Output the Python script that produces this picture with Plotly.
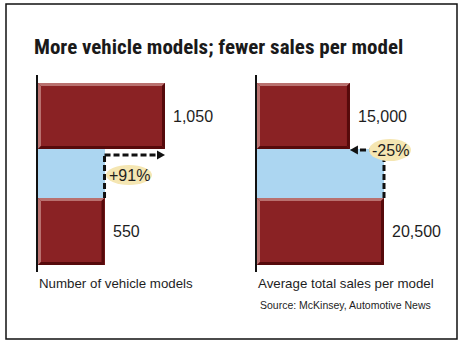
import plotly.graph_objects as go

# ---- data ----
panel_titles = ["Number of vehicle models", "Average total sales per model"]
top_values = [1050, 15000]        # upper (new) bar
bottom_values = [550, 20500]      # lower (old) bar
top_labels = ["1,050", "15,000"]
bottom_labels = ["550", "20,500"]
change_labels = ["+91%", "-25%"]
title = "More vehicle models; fewer sales per model"
source = "Source: McKinsey, Automotive News"

W, H = 463, 342
def PX(x): return x / W
def PY(y): return 1 - y / H

MAROON = "#8a2224"
LIGHT = "#b9716f"
DARK = "#560a0b"
BLUE = "#acd6f1"
YELLOW = "#f5e6b2"
TXT = "#1e1e1e"
FONT = "Liberation Sans, Arial, sans-serif"

# geometry (pixels)
ax_left = [38, 257]
panel_w = 200
bar_px = 127            # px width of the larger value in each panel
y_top_px, y_bot_px = 75, 272
span = y_bot_px - y_top_px
def yv(py):  # pixel row -> y-axis units
    return y_bot_px - py
bars_y = {"top": (yv(149), yv(83)), "band": (yv(198), yv(149)), "bot": (yv(265), yv(198))}

fig = go.Figure()
shapes, annotations = [], []
bev = 3

for i in range(2):
    xa = "x" if i == 0 else "x2"
    ya = "y" if i == 0 else "y2"
    vmax = max(top_values[i], bottom_values[i])
    s = bar_px / vmax           # px per unit
    rng = panel_w / s
    ax_key = "xaxis" if i == 0 else "xaxis2"
    ay_key = "yaxis" if i == 0 else "yaxis2"
    fig.update_layout(**{
        ax_key: dict(domain=[PX(ax_left[i]), PX(ax_left[i] + panel_w)], range=[0, rng],
                     visible=False, fixedrange=True, anchor=ya),
        ay_key: dict(domain=[PY(y_bot_px), PY(y_top_px)], range=[0, span], showline=True,
                     linecolor="#111", linewidth=2, showticklabels=False, ticks="",
                     showgrid=False, zeroline=False, anchor=xa, fixedrange=True),
    })
    entries = [("top", top_values[i], MAROON), ("band", bottom_values[i], BLUE),
               ("bot", bottom_values[i], MAROON)]
    for key, val, col in entries:
        y0, y1 = bars_y[key]
        fig.add_trace(go.Bar(x=[val], y=[(y0 + y1) / 2], width=[y1 - y0], base=0,
                             orientation="h", marker=dict(color=col, line=dict(width=0)),
                             xaxis=xa, yaxis=ya, showlegend=False, hoverinfo="skip"))
        if col == MAROON:
            bx = bev / s
            x0, x1 = 0, val
            polys = [
                (LIGHT, [(x0, y1), (x1, y1), (x1 - bx, y1 - bev), (x0 + bx, y1 - bev)]),
                (LIGHT, [(x0, y0), (x0, y1), (x0 + bx, y1 - bev), (x0 + bx, y0 + bev)]),
                (DARK, [(x0, y0), (x1, y0), (x1 - bx, y0 + bev), (x0 + bx, y0 + bev)]),
                (DARK, [(x1, y0), (x1, y1), (x1 - bx, y1 - bev), (x1 - bx, y0 + bev)]),
            ]
            for c, pts in polys:
                path = "M " + " L ".join(f"{a},{b}" for a, b in pts) + " Z"
                shapes.append(dict(type="path", path=path, xref=xa, yref=ya,
                                   fillcolor=c, line=dict(width=0), layer="above"))
    # value labels
    annotations.append(dict(x=top_values[i], y=sum(bars_y["top"]) / 2, xref=xa, yref=ya,
                            text=top_labels[i], showarrow=False, xanchor="left", xshift=6,
                            font=dict(size=16, color=TXT, family=FONT)))
    annotations.append(dict(x=bottom_values[i], y=sum(bars_y["bot"]) / 2, xref=xa, yref=ya,
                            text=bottom_labels[i], showarrow=False, xanchor="left", xshift=6,
                            font=dict(size=16, color=TXT, family=FONT)))
    # dashed arrows
    dash = dict(color="#111", width=3, dash="6px,3px")
    v_from, v_to = bottom_values[i], top_values[i]
    y_h = yv(155) if i == 0 else yv(150)
    head = 8 / s
    direction = 1 if v_to > v_from else -1
    shapes.append(dict(type="line", xref=xa, yref=ya, x0=v_from, x1=v_from,
                       y0=bars_y["band"][0], y1=y_h, line=dash, layer="above"))
    shapes.append(dict(type="line", xref=xa, yref=ya, x0=v_from, x1=v_to - direction * head,
                       y0=y_h, y1=y_h, line=dash, layer="above"))
    hb = v_to - direction * head
    shapes.append(dict(type="path", xref=xa, yref=ya,
                       path=f"M {v_to},{y_h} L {hb},{y_h + 4.5} L {hb},{y_h - 4.5} Z",
                       fillcolor="#111", line=dict(width=0), layer="above"))

# highlight ellipses + change labels
ell = [(129, 175, 23, 10), (390, 150, 21, 11)]
for i, (cx, cy, rx, ry) in enumerate(ell):
    shapes.append(dict(type="circle", xref="paper", yref="paper",
                       x0=PX(cx - rx), x1=PX(cx + rx), y0=PY(cy + ry), y1=PY(cy - ry),
                       fillcolor=YELLOW, line=dict(width=0), layer="above"))
    annotations.append(dict(x=PX(cx), y=PY(cy), xref="paper", yref="paper", text=change_labels[i],
                            showarrow=False, xanchor="center", yanchor="middle",
                            font=dict(size=16, color=TXT, family=FONT)))

# frame
shapes.append(dict(type="rect", xref="paper", yref="paper", x0=PX(6), x1=PX(457),
                   y0=PY(339), y1=PY(4), line=dict(color="#111", width=1.5), layer="below"))

# title and labels
annotations.append(dict(x=PX(32), y=PY(47), xref="paper", yref="paper", text=f"<b>{title}</b>",
                        showarrow=False, xanchor="left", yanchor="middle",
                        font=dict(size=21, color="#1a1a1a", family="Roboto Condensed, Roboto, sans-serif")))
for i, t in enumerate(panel_titles):
    annotations.append(dict(x=PX(ax_left[i] - 1), y=PY(283), xref="paper", yref="paper", text=t,
                            showarrow=False, xanchor="left", yanchor="middle",
                            font=dict(size=13.3, color=TXT, family=FONT)))
annotations.append(dict(x=PX(258), y=PY(305), xref="paper", yref="paper", text=source,
                        showarrow=False, xanchor="left", yanchor="middle",
                        font=dict(size=10.5, color=TXT, family=FONT)))

fig.update_layout(width=W, height=H, margin=dict(l=0, r=0, t=0, b=0),
                  paper_bgcolor="white", plot_bgcolor="white", barmode="overlay",
                  bargap=0, shapes=shapes, annotations=annotations, showlegend=False)
fig.write_html("out.html", config={"displayModeBar": False})
